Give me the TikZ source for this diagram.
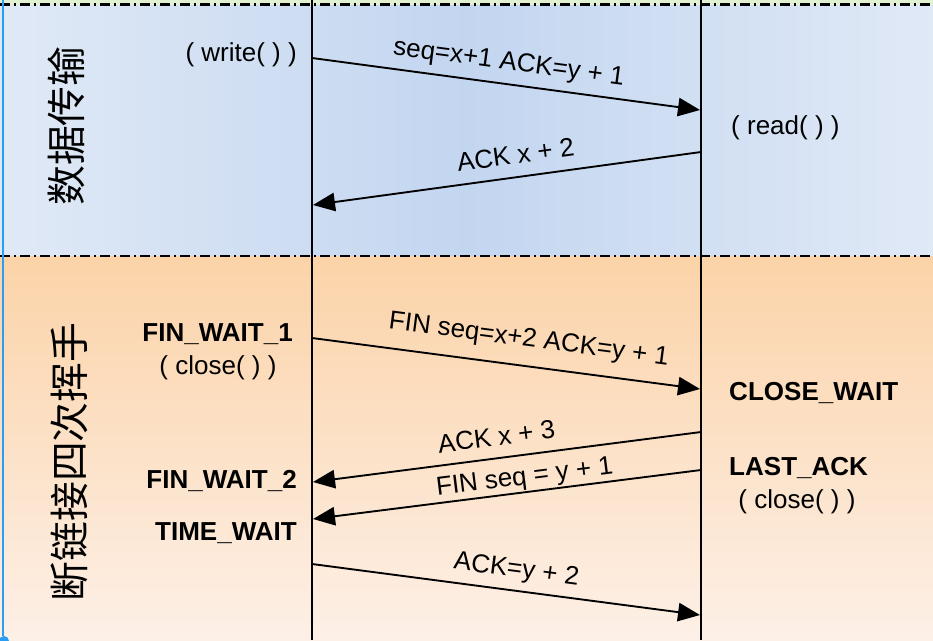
\documentclass[tikz,border=0pt]{standalone}
\usepackage{fontspec}
\setmainfont{Liberation Sans}
\newfontfamily\cjk{Noto Sans CJK SC}
\usetikzlibrary{arrows.meta}

\definecolor{bandblue}{HTML}{C3D6F0}
\definecolor{bandblueL}{HTML}{E0E9F6}
\definecolor{bandorange}{HTML}{FBD3A8}
\definecolor{bandorangeL}{HTML}{FDF0E7}
\definecolor{topgreen}{HTML}{E3F1D3}
\definecolor{edgeblue}{HTML}{2A9DF4}

\begin{document}
\begin{tikzpicture}[x=0.03cm, y=-0.03cm,
	txt/.style={font=\fontsize{22.2}{26}\selectfont, inner sep=0pt},
	stlabel/.style={font=\fontsize{22.2}{26}\selectfont\bfseries, inner sep=0pt},
	msg/.style={line width=1.6pt, -{Triangle[length=0.66cm, width=0.55cm]}},
	msglabel/.style={txt, sloped, above=#1, text depth=0pt},
	msglabel/.default=0.3cm,
	phase/.style={font=\cjk\fontsize{34}{40}\selectfont, rotate=90, inner sep=0pt},
	sep/.style={line width=2.4pt, dash pattern=on 0.3cm off 0.12cm on 0.06cm off 0.12cm}]
\useasboundingbox (0,0) rectangle (933,640);

%background
\fill[topgreen] (0,0) rectangle (933,5);
\shade[left color=bandblueL, right color=bandblueL, middle color=bandblue] (0,5) rectangle (933,256);
\shade[top color=bandorange, bottom color=bandorangeL] (0,256) rectangle (933,640);
\draw[sep] (0,4.5) -- (933,4.5);
\draw[sep] (0,256) -- (933,256);
\draw[edgeblue, line width=1.2pt] (3,0) -- (3,636);
\fill[edgeblue] (4,641) circle (0.15cm);

%lifelines
\draw[line width=1.6pt] (312,0) -- (312,640);
\draw[line width=1.6pt] (701,0) -- (701,640);

%phases
\node[phase] (data) at (66,126) {数据传输};
\node[phase] (fin) at (69,462) {断链接四次挥手};

%states
\node[txt, anchor=east] (write) at (297,55) {( write( ) )};
\node[txt, anchor=west] (read) at (731,128) {( read( ) )};
\node[stlabel, anchor=east] (fw1) at (293,334) {FIN\_WAIT\_1};
\node[txt] (close1) at (218,368) {( close( ) )};
\node[stlabel, anchor=west] (cw) at (729,393) {CLOSE\_WAIT};
\node[stlabel, anchor=west] (la) at (729,468) {LAST\_ACK};
\node[txt] (close2) at (797,502) {( close( ) )};
\node[stlabel, anchor=east] (fw2) at (297,481) {FIN\_WAIT\_2};
\node[stlabel, anchor=east] (tw) at (297,533) {TIME\_WAIT};

%messages
\coordinate (a1) at (312,58);  \coordinate (b1) at (700,110);
\coordinate (b2) at (701,152); \coordinate (a2) at (313,205);
\coordinate (a3) at (312,338); \coordinate (b3) at (700,389);
\coordinate (b4) at (701,432); \coordinate (a4) at (313,482);
\coordinate (b5) at (701,470); \coordinate (a5) at (313,519);
\coordinate (a6) at (312,564); \coordinate (b6) at (700,615);

\draw[msg] (a1) -- (b1) node[msglabel=0.4cm, pos=0.5] {seq=x+1 ACK=y + 1};
\draw[msg] (b2) -- (a2) node[msglabel=0.38cm, pos=0.47] {ACK x + 2};
\draw[msg] (a3) -- (b3) node[msglabel=0.56cm, pos=0.55] {FIN seq=x+2 ACK=y + 1};
\draw[msg] (b4) -- (a4) node[msglabel=0.35cm, pos=0.52] {ACK x + 3};
\draw[msg] (b5) -- (a5) node[msglabel=0.2cm, pos=0.45] {FIN seq = y + 1};
\draw[msg] (a6) -- (b6) node[msglabel=0.38cm, pos=0.52] {ACK=y + 2};

\end{tikzpicture}
\end{document}
